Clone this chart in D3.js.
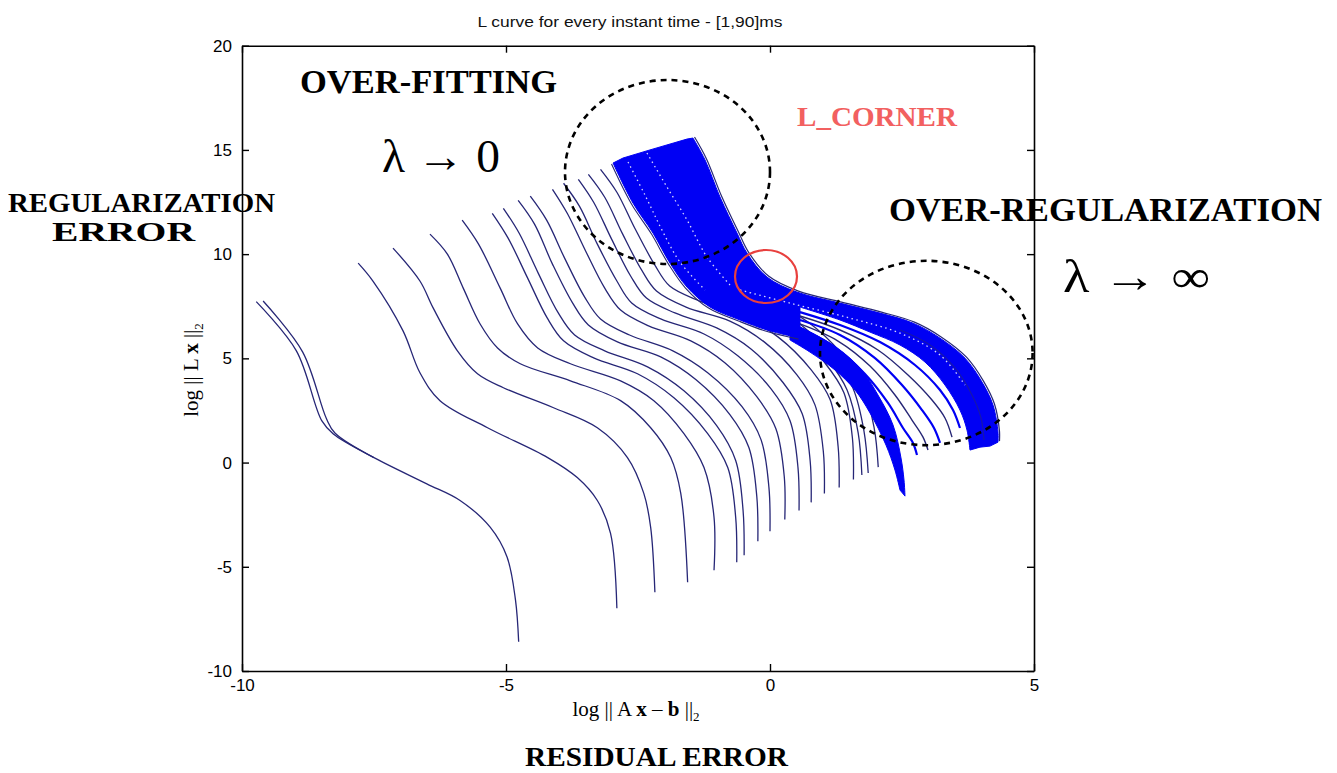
<!DOCTYPE html>
<html>
<head>
<meta charset="utf-8">
<script src="https://cdn.jsdelivr.net/npm/d3@7"></script>
<style>
  html, body { margin: 0; padding: 0; background: #ffffff; }
  svg { display: block; }
</style>
</head>
<body>
<svg id="chart" width="1337" height="773"></svg>
<script>
// ---- axes ----
const xDomain = [-10, 5];
const yDomain = [-10, 20];
const xTicks = [-10, -5, 0, 5];
const yTicks = [-10, -5, 0, 5, 10, 15, 20];

// ---- individual L-curves: [log||Ax-b||, log||Lx||] ----
const curve1a = [[-9.73,7.72],[-8.97,5.36],[-8.49,2.01],[-8.27,1.37],[-7.51,0.25],[-6.50,-1.02],[-5.87,-1.82],[-5.30,-3.10],[-4.98,-4.53],[-4.82,-6.60],[-4.76,-8.60]];
const curve1b = [[-9.60,7.75],[-8.85,5.30],[-8.40,2.10],[-8.24,1.42],[-7.51,0.25]];
const curve2  = [[-7.80,9.57],[-7.52,8.71],[-6.95,6.32],[-6.63,4.31],[-6.25,2.97],[-5.35,1.67],[-4.21,0.24],[-3.65,-0.72],[-3.27,-1.82],[-3.02,-3.40],[-2.90,-6.99]];
const curve3  = [[-7.14,10.29],[-6.63,8.71],[-6.38,7.42],[-5.92,5.36],[-5.54,4.26],[-5.05,3.59],[-4.10,2.63],[-3.27,1.67],[-2.70,0.24],[-2.39,-1.48],[-2.26,-3.11],[-2.18,-6.22]];
const curve4  = [[-6.44,10.96],[-6.11,10.0],[-5.81,8.37],[-5.49,6.65],[-5.16,5.50],[-4.73,4.74],[-3.78,3.92],[-2.83,2.97],[-2.26,1.67],[-1.88,0.24],[-1.69,-1.48],[-1.56,-5.74]];
const curve5  = [[-5.83,11.63],[-5.52,10.48],[-5.11,8.37],[-4.78,6.65],[-4.40,5.50],[-3.78,4.74],[-2.83,3.92],[-2.20,2.97],[-1.63,1.39],[-1.25,-0.24],[-1.06,-2.63],[-1.06,-5.17]];
const curve6  = [[-5.26,11.96],[-4.96,10.77],[-4.59,8.85],[-4.22,6.94],[-3.91,5.84],[-3.34,5.02],[-2.51,4.26],[-1.82,3.11],[-1.18,1.39],[-0.80,-0.24],[-0.65,-2.63],[-0.63,-4.78]];
const curve7  = [[-5.05,12.20],[-4.75,11.0],[-4.39,9.09],[-4.01,7.18],[-3.70,6.12],[-3.13,5.36],[-2.32,4.59],[-1.63,3.44],[-1.01,1.77],[-0.65,0.10],[-0.51,-2.30],[-0.49,-4.45]];
const curve8  = [[-4.77,12.58],[-4.46,11.44],[-4.12,9.52],[-3.74,7.66],[-3.44,6.60],[-2.89,5.79],[-2.07,5.07],[-1.40,3.97],[-0.76,2.30],[-0.40,0.72],[-0.25,-1.63],[-0.23,-3.78]];
const curve9  = [[-4.54,12.78],[-4.23,11.63],[-3.89,9.81],[-3.51,7.94],[-3.21,6.89],[-2.66,6.12],[-1.84,5.36],[-1.18,4.31],[-0.53,2.68],[-0.17,1.10],[-0.02,-1.20],[0.00,-3.30]];
const curve10 = [[-4.12,13.11],[-3.84,11.96],[-3.49,10.14],[-3.13,8.37],[-2.83,7.32],[-2.30,6.56],[-1.50,5.84],[-0.85,4.78],[-0.25,3.16],[0.11,1.63],[0.27,-0.67],[0.28,-2.73]];
const curve11 = [[-3.91,13.40],[-3.61,12.30],[-3.27,10.48],[-2.90,8.71],[-2.62,7.66],[-2.07,6.89],[-1.25,6.17],[-0.61,5.12],[0.02,3.54],[0.38,2.01],[0.53,-0.24],[0.55,-2.30]];
const curve12 = [[-3.63,13.59],[-3.34,12.49],[-3.00,10.72],[-2.64,8.95],[-2.34,7.89],[-1.80,7.18],[-1.01,6.46],[-0.36,5.45],[0.25,3.83],[0.61,2.34],[0.76,0.10],[0.78,-1.91]];
const curve13 = [[-3.44,13.83],[-3.13,12.73],[-2.79,10.96],[-2.43,9.23],[-2.15,8.23],[-1.59,7.46],[-0.76,6.79],[-0.11,5.79],[0.51,4.21],[0.85,2.78],[1.01,0.53],[1.03,-1.48]];
const curve14 = [[-3.21,14.07],[-2.90,12.97],[-2.56,11.24],[-2.18,9.47],[-1.90,8.47],[-1.33,7.75],[-0.53,7.03],[0.15,6.03],[0.78,4.45],[1.14,3.01],[1.29,0.77],[1.31,-1.20]];
const curve15 = [[-2.92,14.31],[-2.62,13.25],[-2.28,11.48],[-1.92,9.76],[-1.61,8.76],[-1.06,8.09],[-0.25,7.42],[0.42,6.41],[1.04,4.78],[1.40,3.35],[1.56,1.20],[1.58,-0.81]];
const curve16 = [[-2.86,14.47],[-2.56,13.41],[-2.22,11.64],[-1.86,9.91],[-1.55,8.90],[-1.00,8.23],[-0.19,7.56],[0.47,6.55],[1.10,4.92],[1.46,3.48],[1.67,1.42],[1.74,-0.60]];
const curve17 = [[-2.75,14.52],[-2.44,13.46],[-2.10,11.69],[-1.74,9.96],[-1.44,8.95],[-0.89,8.28],[-0.08,7.61],[0.59,6.60],[1.21,5.01],[1.57,3.58],[1.78,1.51],[1.86,-0.50]];
const curve18 = [[-2.63,14.61],[-2.33,13.56],[-1.99,11.78],[-1.63,10.05],[-1.33,9.05],[-0.78,8.37],[0.04,7.70],[0.72,6.74],[1.36,5.21],[1.74,3.77],[1.97,1.70],[2.05,-0.22]];

const sparseCurves = [curve1a, curve1b, curve2, curve3, curve4, curve5, curve6, curve7, curve8,
  curve9, curve10, curve11, curve12, curve13, curve14, curve15, curve16, curve17, curve18];

// ---- dense bundle of late-time curves: outline of the solid band ----
const bandUpperEdge = [[-1.458,15.57],[-1.231,14.52],[-0.947,12.74],[-0.625,11.01],[-0.436,10.05],[-0.057,8.90],[0.511,8.18],[1.326,7.65],[2.083,7.17],[2.708,6.69],[3.220,5.97],[3.693,5.01],[4.015,3.86],[4.223,2.76],[4.318,1.46],[4.318,0.98]];
const bandEndEdge   = [[4.318,0.98],[4.167,0.79],[3.977,0.74],[3.788,0.60]];
const bandInnerEdge = [[3.788,0.60],[3.731,1.56],[3.598,2.52],[3.314,3.72],[2.936,4.82],[2.462,5.64],[1.894,6.26],[1.326,6.84],[0.568,7.46]];
const bandLowerEdge = [[0.568,5.97],[-0.057,6.36],[-0.568,6.84],[-1.136,7.46],[-1.572,8.42],[-1.894,9.57],[-2.216,11.01],[-2.595,12.45],[-2.973,14.37]];
const bandTopEdge   = [[-2.973,14.37],[-2.784,14.61],[-2.273,15.00],[-1.572,15.52],[-1.458,15.57]];

// lower lobe of the bundle (the deep dip near log||Ax-b|| = 2.5)
const spikeRightEdge = [[0.379,6.74],[1.136,5.73],[1.705,4.53],[2.045,3.24],[2.330,1.80],[2.481,0.22],[2.538,-0.84],[2.557,-1.61]];
const spikeLeftEdge  = [[2.462,-1.32],[2.367,-0.36],[2.197,0.84],[1.894,2.38],[1.610,3.48],[1.231,4.44],[0.758,5.30],[0.379,5.88]];

// separated curves between the two lobes
const midCurve1 = [[0.568,7.22],[1.326,6.60],[2.083,5.78],[2.746,4.68],[3.220,3.48],[3.466,2.52],[3.598,1.66]];
const midCurve2 = [[0.568,7.03],[1.326,6.36],[2.045,5.40],[2.614,4.20],[3.068,3.00],[3.314,2.14],[3.447,1.22]];
const midCurve3 = [[0.568,6.84],[1.326,6.12],[1.989,5.01],[2.500,3.72],[2.879,2.52],[3.106,1.66],[3.220,0.94]];
const midCurve4 = [[0.568,6.65],[1.288,5.83],[1.894,4.63],[2.367,3.24],[2.689,2.04],[2.898,1.22],[2.992,0.60]];
const midCurve5 = [[0.568,6.45],[1.231,5.54],[1.799,4.25],[2.235,2.86],[2.519,1.66],[2.708,0.94],[2.784,0.36]];
const lobeCurve = [[2.462,6.36],[3.030,5.64],[3.504,4.53],[3.826,3.24],[3.996,2.14],[4.053,1.08]];

// thin gaps visible inside the solid band
const gapLine1 = [[-2.330,14.85],[-1.951,13.22],[-1.572,11.64],[-1.193,9.86],[-0.758,8.52]];
const gapLine2 = [[-2.689,14.42],[-2.367,12.83],[-2.045,11.15],[-1.705,9.62],[-1.231,8.28]];
const gapLine3 = [[-0.568,8.28],[0.379,7.65],[1.515,6.93],[2.462,6.21],[3.220,5.16],[3.693,3.72]];

// ---- drawing ----
const svg = d3.select("#chart");
const W = 1337, H = 773;
svg.append("rect").attr("width", W).attr("height", H).attr("fill", "#ffffff");

const plot = { left: 242, right: 1034, top: 45.7, bottom: 671 };
const x = d3.scaleLinear().domain(xDomain).range([plot.left, plot.right]);
const y = d3.scaleLinear().domain(yDomain).range([plot.bottom, plot.top]);

const smooth = d3.line().x(d => x(d[0])).y(d => y(d[1])).curve(d3.curveCatmullRom.alpha(0.5));
const straight = d3.line().x(d => x(d[0])).y(d => y(d[1]));

function joinedPath(parts) {
  return parts.map((p, i) => {
    const d = (p.smooth ? smooth : straight)(p.pts);
    return i ? d.replace(/^M/, "L") : d;
  }).join("") + "Z";
}

const NAVY = "#262676";
const BLUE = "#0000f4";

const g = svg.append("g");

// sparse curves
g.selectAll("path.sparse").data(sparseCurves).join("path")
  .attr("class", "sparse")
  .attr("d", smooth)
  .attr("fill", "none")
  .attr("stroke", NAVY)
  .attr("stroke-width", 1.3);

// dense band
g.append("path")
  .attr("d", joinedPath([
    { pts: bandUpperEdge, smooth: true },
    { pts: bandEndEdge, smooth: false },
    { pts: bandInnerEdge, smooth: true },
    { pts: [bandInnerEdge[bandInnerEdge.length - 1], bandLowerEdge[0]], smooth: false },
    { pts: bandLowerEdge, smooth: true },
    { pts: bandTopEdge, smooth: false }
  ]))
  .attr("fill", BLUE)
  .attr("stroke", BLUE)
  .attr("stroke-width", 1);

g.append("path")
  .attr("d", joinedPath([
    { pts: spikeRightEdge, smooth: true },
    { pts: spikeLeftEdge, smooth: true }
  ]))
  .attr("fill", BLUE)
  .attr("stroke", BLUE)
  .attr("stroke-width", 1);

// spread-out curves between lobes
g.selectAll("path.mid").data([midCurve1, midCurve2, midCurve3, midCurve4, midCurve5]).join("path")
  .attr("class", "mid")
  .attr("d", smooth)
  .attr("fill", "none")
  .attr("stroke", (d, i) => i % 2 ? NAVY : BLUE)
  .attr("stroke-width", (d, i) => i % 2 ? 1.4 : 2.2);

g.append("path").attr("d", smooth(lobeCurve))
  .attr("fill", "none").attr("stroke", NAVY).attr("stroke-width", 1.2).attr("opacity", 0.6);

// white speckle streaks inside the band
g.selectAll("path.gap").data([gapLine1, gapLine2, gapLine3]).join("path")
  .attr("class", "gap")
  .attr("d", smooth)
  .attr("fill", "none")
  .attr("stroke", "#ffffff")
  .attr("stroke-width", 1.3)
  .attr("stroke-dasharray", "1.5 3.5")
  .attr("opacity", 0.85);

// outer edges of the bundle
g.append("path").attr("d", smooth(bandUpperEdge))
  .attr("fill", "none").attr("stroke", NAVY).attr("stroke-width", 1.2)
  .attr("transform", "translate(1.5,-1)");
g.append("path").attr("d", smooth(bandLowerEdge))
  .attr("fill", "none").attr("stroke", NAVY).attr("stroke-width", 1.1)
  .attr("transform", "translate(-1.5,1)");

// ---- axes (boxed, inward ticks) ----
const tickFont = "'Liberation Sans', Arial, sans-serif";
const plainNum = d => String(d);
function styleAxis(sel) {
  sel.selectAll("path.domain").attr("stroke", "#000").attr("stroke-width", 1.6);
  sel.selectAll(".tick line").attr("stroke", "#000").attr("stroke-width", 1.4);
  sel.selectAll(".tick text").attr("fill", "#000").style("font-family", tickFont).style("font-size", "17px");
}
svg.append("g").attr("transform", `translate(0,${plot.bottom})`)
  .call(d3.axisBottom(x).tickValues(xTicks).tickFormat(plainNum).tickSizeInner(-7).tickSizeOuter(0).tickPadding(8))
  .call(styleAxis);
svg.append("g").attr("transform", `translate(0,${plot.top})`)
  .call(d3.axisTop(x).tickValues(xTicks).tickSizeInner(-7).tickSizeOuter(0).tickFormat(""))
  .call(styleAxis);
svg.append("g").attr("transform", `translate(${plot.left},0)`)
  .call(d3.axisLeft(y).tickValues(yTicks).tickFormat(plainNum).tickSizeInner(-7).tickSizeOuter(0).tickPadding(10))
  .call(styleAxis);
svg.append("g").attr("transform", `translate(${plot.right},0)`)
  .call(d3.axisRight(y).tickValues(yTicks).tickSizeInner(-7).tickSizeOuter(0).tickFormat(""))
  .call(styleAxis);

// ---- title and axis labels ----
svg.append("text")
  .attr("x", 630).attr("y", 27)
  .attr("text-anchor", "middle")
  .attr("textLength", 305).attr("lengthAdjust", "spacingAndGlyphs")
  .style("font-family", tickFont).style("font-size", "14px").attr("fill", "#111")
  .text("L curve for every instant time - [1,90]ms");

const serif = "'Liberation Serif', 'Times New Roman', serif";

const xl = svg.append("text")
  .attr("x", 636).attr("y", 716).attr("text-anchor", "middle")
  .style("font-family", serif).style("font-size", "21px").attr("fill", "#000");
xl.append("tspan").text("log || A ");
xl.append("tspan").attr("font-weight", "bold").text("x");
xl.append("tspan").text(" \u2013 ");
xl.append("tspan").attr("font-weight", "bold").text("b");
xl.append("tspan").text(" ||");
xl.append("tspan").attr("dy", 5).style("font-size", "13px").text("2");

const yl = svg.append("text")
  .attr("transform", "translate(198,370) rotate(-90)").attr("text-anchor", "middle")
  .style("font-family", serif).style("font-size", "21px").attr("fill", "#000");
yl.append("tspan").text("log || L ");
yl.append("tspan").attr("font-weight", "bold").text("x");
yl.append("tspan").text(" ||");
yl.append("tspan").attr("dy", 5).style("font-size", "13px").text("2");

// ---- annotations ----
const ann = svg.append("g");
ann.append("ellipse").attr("cx", 667.5).attr("cy", 172).attr("rx", 102.5).attr("ry", 92)
  .attr("fill", "none").attr("stroke", "#000").attr("stroke-width", 2.6).attr("stroke-dasharray", "6 5");
ann.append("ellipse").attr("cx", 926.3).attr("cy", 353).attr("rx", 106.3).attr("ry", 92.2)
  .attr("fill", "none").attr("stroke", "#000").attr("stroke-width", 2.6).attr("stroke-dasharray", "6 5");
ann.append("ellipse").attr("cx", 766).attr("cy", 276.5).attr("rx", 31).attr("ry", 26.5)
  .attr("fill", "none").attr("stroke", "#e8403e").attr("stroke-width", 2.2);

function boldLabel(txt, x0, yb, len, size, color) {
  const t = ann.append("text").attr("x", x0).attr("y", yb)
    .style("font-family", serif).style("font-weight", "bold").style("font-size", size + "px")
    .attr("fill", color || "#000").text(txt);
  if (len) t.attr("textLength", len).attr("lengthAdjust", "spacingAndGlyphs");
}
boldLabel("OVER-FITTING", 300, 93, 257, 33);
boldLabel("REGULARIZATION", 8, 212, 267, 27);
boldLabel("ERROR", 52, 241, 143, 27);
boldLabel("L_CORNER", 797, 126, 160, 28, "#f26060");
boldLabel("OVER-REGULARIZATION", 889, 221, 433, 33);
boldLabel("RESIDUAL ERROR", 525, 766, 263, 27);

function mathLabel(txt, x0, yb, len) {
  ann.append("text").attr("x", x0).attr("y", yb)
    .attr("textLength", len).attr("lengthAdjust", "spacingAndGlyphs")
    .style("font-family", serif).style("font-size", "46px").attr("fill", "#000")
    .text(txt);
}
mathLabel("\u03bb \u2192 0", 382, 172, 118);
mathLabel("\u03bb \u2192 \u221e", 1063, 292, 147);
</script>
</body>
</html>
